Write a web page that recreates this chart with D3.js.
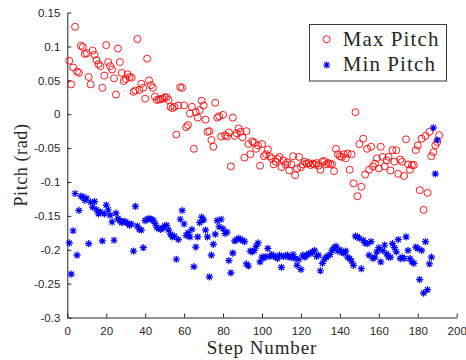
<!DOCTYPE html>
<html>
<head>
<meta charset="utf-8">
<script src="https://cdn.jsdelivr.net/npm/d3@7"></script>
<style>
body { margin: 0; background: #fff; }
.axis text { font-family: "Liberation Sans", Arial, sans-serif; font-size: 11.5px; fill: #262626; }
.axis path, .axis line { stroke: #262626; }
.label { font-family: "Liberation Serif", "Times New Roman", serif; fill: #262626; }
</style>
</head>
<body>
<svg id="chart" width="466" height="360"></svg>
<script>
// step number is the index + 1
const maxPitch = [
  0.079, 0.044, 0.069, 0.129, 0.063, 0.061, 0.101, 0.099, 0.089, 0.090,
  0.055, 0.044, 0.094, 0.088, 0.080, 0.074, 0.071, 0.039, 0.057, 0.102,
  0.077, 0.071, 0.066, 0.053, 0.029, 0.097, 0.077, 0.061, 0.049, 0.052,
  0.059, 0.055, 0.054, 0.033, 0.035, 0.111, 0.036, 0.045, 0.039, 0.023,
  0.082, 0.050, 0.043, 0.039, 0.026, 0.021, 0.022, 0.022, 0.023, 0.025,
  0.025, 0.021, 0.011, 0.009, 0.011, -0.030, 0.013, 0.040, 0.039, 0.013,
  -0.019, -0.016, 0.001, 0.011, -0.051, 0.003, -0.005, 0.006, 0.020, 0.013,
  -0.008, -0.026, -0.025, -0.038, -0.048, 0.017, -0.005, -0.003, -0.033, -0.001,
  -0.031, -0.033, -0.027, -0.077, -0.005, -0.032, -0.028, -0.021, -0.026, -0.034,
  -0.064, -0.025, -0.044, -0.059, -0.040, -0.042, -0.051, -0.046, -0.076, -0.044,
  -0.062, -0.059, -0.052, -0.062, -0.065, -0.074, -0.070, -0.066, -0.063, -0.078,
  -0.068, -0.074, -0.071, -0.083, -0.074, -0.062, -0.090, -0.080, -0.063, -0.078,
  -0.074, -0.070, -0.073, -0.072, -0.075, -0.073, -0.074, -0.072, -0.076, -0.082,
  -0.070, -0.069, -0.074, -0.072, -0.073, -0.074, -0.084, -0.051, -0.059, -0.062,
  -0.063, -0.059, -0.065, -0.058, -0.082, -0.059, -0.102, 0.003, -0.121, -0.044,
  -0.107, -0.036, -0.089, -0.051, -0.082, -0.048, -0.077, -0.073, -0.065, -0.080,
  -0.048, -0.063, -0.077, -0.068, -0.063, -0.083, -0.053, -0.070, -0.053, -0.088,
  -0.067, -0.070, -0.091, -0.037, -0.074, -0.082, -0.075, -0.075, -0.053, -0.046,
  -0.112, -0.036, -0.141, -0.032, -0.116, -0.026, -0.062, -0.056, -0.046, -0.041,
  -0.031
];

const minPitch = [
  -0.190, -0.236, -0.172, -0.117, -0.208, -0.142, -0.121, -0.122, -0.127, -0.124,
  -0.191, -0.130, -0.137, -0.129, -0.141, -0.147, -0.144, -0.187, -0.147, -0.134,
  -0.141, -0.149, -0.159, -0.186, -0.146, -0.154, -0.157, -0.160, -0.158, -0.159,
  -0.161, -0.164, -0.162, -0.202, -0.136, -0.165, -0.170, -0.171, -0.197, -0.157,
  -0.155, -0.154, -0.155, -0.156, -0.161, -0.167, -0.169, -0.170, -0.168, -0.165,
  -0.164, -0.171, -0.177, -0.181, -0.180, -0.214, -0.185, -0.155, -0.142, -0.162,
  -0.179, -0.175, -0.181, -0.170, -0.225, -0.196, -0.181, -0.160, -0.152, -0.156,
  -0.171, -0.181, -0.240, -0.208, -0.192, -0.177, -0.157, -0.166, -0.155, -0.169,
  -0.176, -0.174, -0.216, -0.234, -0.205, -0.187, -0.185, -0.183, -0.185, -0.186,
  -0.188, -0.221, -0.224, -0.202, -0.203, -0.201, -0.195, -0.190, -0.218, -0.211,
  -0.212, -0.210, -0.198, -0.210, -0.207, -0.209, -0.211, -0.213, -0.208, -0.226,
  -0.210, -0.209, -0.208, -0.211, -0.211, -0.207, -0.213, -0.223, -0.214, -0.229,
  -0.208, -0.211, -0.208, -0.206, -0.205, -0.203, -0.201, -0.210, -0.208, -0.231,
  -0.220, -0.214, -0.211, -0.209, -0.207, -0.201, -0.197, -0.195, -0.202, -0.200,
  -0.204, -0.205, -0.202, -0.211, -0.213, -0.217, -0.223, -0.180, -0.181, -0.183,
  -0.228, -0.186, -0.190, -0.191, -0.208, -0.188, -0.213, -0.211, -0.203, -0.197,
  -0.218, -0.201, -0.193, -0.206, -0.211, -0.211, -0.191, -0.197, -0.203, -0.185,
  -0.213, -0.211, -0.213, -0.181, -0.201, -0.213, -0.218, -0.220, -0.196, -0.198,
  -0.244, -0.201, -0.264, -0.188, -0.259, -0.221, -0.211, -0.020, -0.088, -0.038
];

const xTicks = [0, 20, 40, 60, 80, 100, 120, 140, 160, 180, 200];
const yTicks = [-0.3, -0.25, -0.2, -0.15, -0.1, -0.05, 0, 0.05, 0.1, 0.15];
const seriesNames = ["Max Pitch", "Min Pitch"];

// MATLAB style '*' marker: plus and cross together
const asterisk = (r)=>{
    let d = r * 0.72;
    return "M" + (-r) + ",0L" + r + ",0M0," + (-r) + "L0," + r +
        "M" + (-d) + "," + (-d) + "L" + d + "," + d +
        "M" + (-d) + "," + d + "L" + d + "," + (-d);
}

const drawChart = ()=>{
    let svg = d3.select("#chart");

    let xScale = d3.scaleLinear().domain([0, 200]).range([67.3, 456.7]);
    let yScale = d3.scaleLinear().domain([-0.3, 0.15]).range([317.5, 12.6]);

    let xAxis = d3.axisBottom(xScale).tickValues(xTicks)
        .tickSizeInner(-4).tickSizeOuter(0).tickPadding(9);
    let yAxis = d3.axisLeft(yScale).tickValues(yTicks)
        .tickSizeInner(-4).tickSizeOuter(0).tickPadding(7)
        .tickFormat((d)=>String(d));

    let gx = svg.append("g")
        .attr("class", "axis")
        .attr("transform", "translate(0," + yScale(-0.3) + ")")
        .call(xAxis);
    let gy = svg.append("g")
        .attr("class", "axis")
        .attr("transform", "translate(" + xScale(0) + ",0)")
        .call(yAxis);
    gx.selectAll("text").attr("font-family", null).attr("font-size", null);
    gy.selectAll("text").attr("font-family", null).attr("font-size", null);

    let maxData = maxPitch.map((v, i)=>[i + 1, v]);
    let minData = minPitch.map((v, i)=>[i + 1, v]);

    svg.append("g").selectAll("circle")
        .data(maxData)
        .enter().append("circle")
        .attr("cx", (d)=>xScale(d[0]))
        .attr("cy", (d)=>yScale(d[1]))
        .attr("r", 3.5)
        .attr("fill", "none")
        .attr("stroke", "#ff0000")
        .attr("stroke-width", 0.9);

    svg.append("g").selectAll("path")
        .data(minData)
        .enter().append("path")
        .attr("transform", (d)=>"translate(" + xScale(d[0]) + "," + yScale(d[1]) + ")")
        .attr("d", asterisk(3.6))
        .attr("fill", "none")
        .attr("stroke", "#0000ff")
        .attr("stroke-width", 1.2);

    // axis titles
    svg.append("text")
        .attr("class", "label")
        .attr("x", (xScale(0) + xScale(200)) / 2)
        .attr("y", 354)
        .attr("text-anchor", "middle")
        .attr("font-size", "19px")
        .attr("letter-spacing", "0.9px")
        .text("Step Number");

    svg.append("text")
        .attr("class", "label")
        .attr("transform", "translate(27," + (yScale(-0.3) + yScale(0.15)) / 2 + ") rotate(-90)")
        .attr("text-anchor", "middle")
        .attr("font-size", "18px")
        .attr("letter-spacing", "0.6px")
        .text("Pitch (rad)");

    // legend
    let legend = svg.append("g").attr("transform", "translate(309,24)");
    legend.append("rect")
        .attr("x", 0.5).attr("y", 0.5)
        .attr("width", 137).attr("height", 56.5)
        .attr("fill", "#fff")
        .attr("stroke", "#3a3a3a")
        .attr("stroke-width", 1);

    legend.append("circle")
        .attr("cx", 17.7).attr("cy", 15.3).attr("r", 3.5)
        .attr("fill", "none").attr("stroke", "#ff0000").attr("stroke-width", 0.9);
    legend.append("path")
        .attr("transform", "translate(17.7,41)")
        .attr("d", asterisk(3.6))
        .attr("fill", "none").attr("stroke", "#0000ff").attr("stroke-width", 1.2);

    legend.selectAll("text.entry")
        .data(seriesNames)
        .enter().append("text")
        .attr("class", "label entry")
        .attr("x", 33.7)
        .attr("y", (d, i)=>22 + i * 25)
        .attr("font-size", "21px")
        .attr("letter-spacing", "1.1px")
        .text((d)=>d);
}

drawChart();
</script>
</body>
</html>
